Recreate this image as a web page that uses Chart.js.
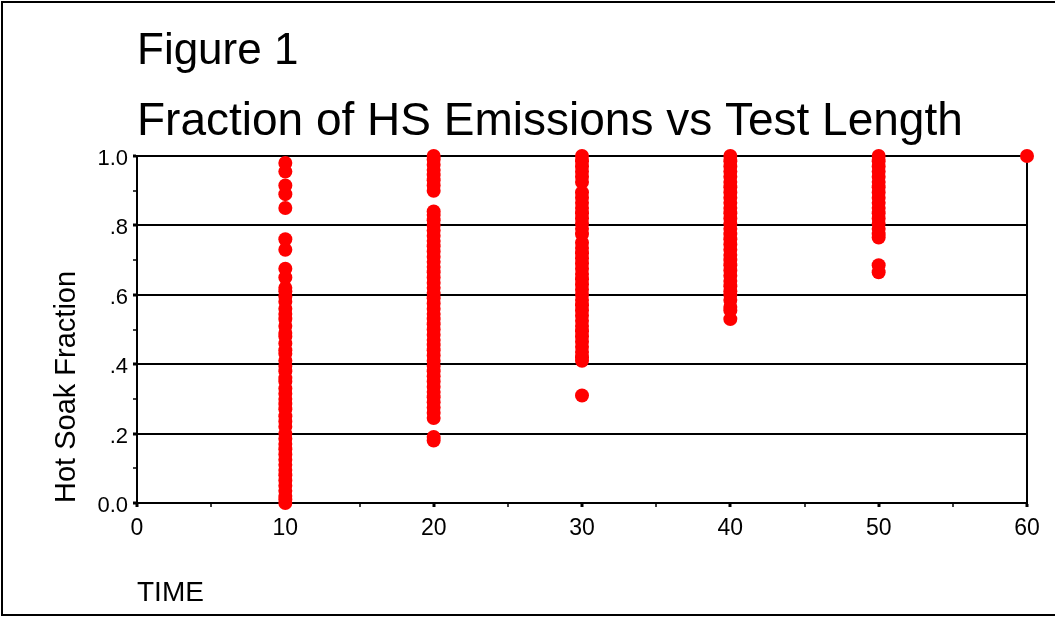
<!DOCTYPE html>
<html>
<head>
<meta charset="utf-8">
<script src="https://cdn.jsdelivr.net/npm/chart.js@4.4.1/dist/chart.umd.min.js"></script>
<style>
  html, body { margin: 0; padding: 0; background: #fff; }
  #wrap { width: 1055px; height: 618px; position: relative; }
</style>
</head>
<body>
<div id="wrap"><canvas id="c" width="1055" height="618"></canvas></div>
<script>
// ---- data ----
const titleLines = ['Figure 1', 'Fraction of HS Emissions vs Test Length'];
const xTitle = 'TIME';
const yTitle = 'Hot Soak Fraction';
const testLengths = [10, 20, 30, 40, 50, 60];
const hs10 = [0.98, 0.955, 0.915, 0.89, 0.85, 0.76, 0.73, 0.675, 0.65, 0.62, 0.61, 0.595, 0.58, 0.56, 0.545, 0.53, 0.51, 0.49, 0.48, 0.46, 0.44, 0.43, 0.41, 0.395, 0.38, 0.36, 0.35, 0.33, 0.315, 0.30, 0.285, 0.27, 0.25, 0.235, 0.22, 0.20, 0.185, 0.17, 0.155, 0.14, 0.125, 0.11, 0.095, 0.08, 0.065, 0.05, 0.035, 0.02, 0.01, 0.0];
const hs20 = [1.0, 0.99, 0.975, 0.96, 0.945, 0.93, 0.915, 0.90, 0.84, 0.83, 0.815, 0.80, 0.785, 0.77, 0.755, 0.74, 0.725, 0.71, 0.695, 0.68, 0.665, 0.65, 0.635, 0.62, 0.605, 0.59, 0.575, 0.56, 0.545, 0.53, 0.515, 0.50, 0.485, 0.47, 0.455, 0.44, 0.425, 0.41, 0.395, 0.38, 0.365, 0.35, 0.335, 0.32, 0.305, 0.29, 0.275, 0.26, 0.245, 0.19, 0.18];
const hs30 = [1.0, 0.985, 0.97, 0.955, 0.94, 0.925, 0.895, 0.88, 0.865, 0.85, 0.835, 0.82, 0.805, 0.79, 0.775, 0.75, 0.735, 0.72, 0.705, 0.69, 0.675, 0.66, 0.645, 0.63, 0.615, 0.60, 0.585, 0.57, 0.555, 0.54, 0.525, 0.51, 0.495, 0.48, 0.465, 0.45, 0.435, 0.42, 0.41, 0.31];
const hs40 = [1.0, 0.985, 0.97, 0.955, 0.94, 0.925, 0.91, 0.895, 0.88, 0.865, 0.85, 0.835, 0.82, 0.805, 0.79, 0.775, 0.76, 0.745, 0.73, 0.715, 0.70, 0.685, 0.67, 0.655, 0.64, 0.625, 0.61, 0.60, 0.585, 0.565, 0.555, 0.53];
const hs50 = [1.0, 0.985, 0.97, 0.955, 0.94, 0.925, 0.91, 0.895, 0.88, 0.865, 0.85, 0.835, 0.82, 0.805, 0.79, 0.775, 0.765, 0.685, 0.665];
const hs60 = [1.0];
const xTickLabels = ['0', '10', '20', '30', '40', '50', '60'];
const yTickLabels = ['0.0', '.2', '.4', '.6', '.8', '1.0'];

// ---- build points ----
const fractionsByLength = [hs10, hs20, hs30, hs40, hs50, hs60];
const points = [];
testLengths.forEach((t, i) => {
  fractionsByLength[i].forEach(f => points.push({ x: t, y: f }));
});

const FONT = "'Liberation Sans', Arial, Helvetica, sans-serif";
Chart.defaults.font.family = FONT;
Chart.defaults.color = '#000';

const framePlugin = {
  id: 'frameAndTitles',
  afterDraw(chart) {
    const ctx = chart.ctx;
    const area = chart.chartArea;
    ctx.save();
    // outer frame
    ctx.strokeStyle = '#000';
    ctx.lineWidth = 2;
    ctx.beginPath();
    ctx.moveTo(1055, 2); ctx.lineTo(2, 2); ctx.lineTo(2, 615); ctx.lineTo(1055, 615);
    ctx.stroke();
    // titles
    ctx.fillStyle = '#000';
    ctx.textAlign = 'left';
    ctx.textBaseline = 'alphabetic';
    ctx.font = '44px ' + FONT;
    ctx.fillText(titleLines[0], area.left, 64);
    ctx.font = '46px ' + FONT;
    ctx.fillText(titleLines[1], area.left, 135);
    ctx.restore();
  }
};

new Chart(document.getElementById('c'), {
  type: 'scatter',
  data: {
    datasets: [{
      data: points,
      backgroundColor: '#ff0000',
      borderColor: '#ff0000',
      borderWidth: 0,
      pointRadius: 7,
      pointHoverRadius: 7,
      clip: false
    }]
  },
  options: {
    responsive: false,
    animation: false,
    events: [],
    layout: { padding: { left: 0, right: 28, top: 156, bottom: 0 } },
    plugins: {
      legend: { display: false },
      tooltip: { enabled: false },
      title: { display: false }
    },
    scales: {
      x: {
        type: 'linear',
        min: 0, max: 60,
        afterFit: s => { s.height = 115; },
        ticks: {
          stepSize: 5,
          autoSkip: false,
          maxRotation: 0,
          padding: 8,
          color: '#000',
          font: { size: 23 },
          callback: v => (v % 10 === 0 ? xTickLabels[v / 10] : '')
        },
        grid: {
          color: c => (c.tick && c.tick.value === 60 ? '#000' : 'rgba(0,0,0,0)'),
          lineWidth: 2,
          drawTicks: true,
          tickLength: 4,
          tickColor: '#000',
          tickWidth: c => (c.tick && c.tick.value % 10 === 0 ? 3 : 1.5)
        },
        border: { display: true, color: '#000', width: 2 },
        title: {
          display: true,
          text: xTitle,
          align: 'start',
          color: '#000',
          font: { size: 28 },
          padding: { top: 0, bottom: 8 }
        }
      },
      y: {
        type: 'linear',
        min: 0, max: 1,
        afterFit: s => { s.width = 137; },
        ticks: {
          stepSize: 0.1,
          autoSkip: false,
          padding: 5,
          labelOffset: 3,
          color: '#000',
          font: { size: 22 },
          callback: v => {
            const k = Math.round(v * 10);
            return k % 2 === 0 ? yTickLabels[k / 2] : '';
          }
        },
        grid: {
          color: c => (c.tick && Math.round(c.tick.value * 10) % 2 === 0 ? '#000' : 'rgba(0,0,0,0)'),
          lineWidth: 2,
          drawTicks: true,
          tickLength: 4,
          tickColor: '#000',
          tickWidth: c => (c.tick && Math.round(c.tick.value * 10) % 2 === 0 ? 3 : 1.5)
        },
        border: { display: true, color: '#000', width: 2 },
        title: {
          display: true,
          text: yTitle,
          align: 'start',
          color: '#000',
          font: { size: 29 },
          padding: { top: 50, bottom: 0 }
        }
      }
    }
  },
  plugins: [framePlugin]
});
</script>
</body>
</html>
